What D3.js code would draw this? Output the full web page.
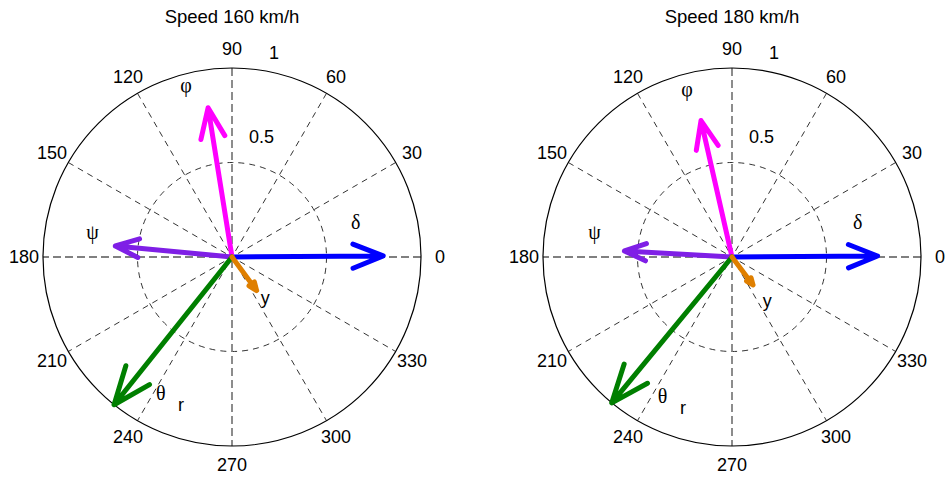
<!DOCTYPE html>
<html>
<head>
<meta charset="utf-8">
<script src="https://cdn.jsdelivr.net/npm/d3@7"></script>
<style>
  body { margin: 0; background: #fff; }
  text { font-family: "Liberation Sans", Arial, sans-serif; fill: #000; }
</style>
</head>
<body>
<div class="chart"></div>
<script>
// titles of the two panels
var titles = ["Speed 160 km/h", "Speed 180 km/h"];

// vectors: magnitude and angle (deg) per panel
var vectorNames = ["δ", "φ", "ψ", "θ", "y"];
var mag160 = [0.80, 0.80, 0.62, 1.00, 0.22];
var ang160 = [0.4, 99.1, 174.6, 231.4, 306.3];
var mag180 = [0.77, 0.74, 0.57, 1.00, 0.185];
var ang180 = [0.4, 102.8, 176.8, 230.5, 306.9];

// text labels next to the vectors (polar data coords)
var labelText = ["δ", "φ", "ψ", "θ", "r", "y"];
var labelR160 = [0.68, 0.94, 0.75, 0.81, 0.83, 0.28];
var labelA160 = [15.8, 105, 169.8, 242.3, 251, 308.8];
var labelR180 = [0.69, 0.92, 0.74, 0.82, 0.84, 0.30];
var labelA180 = [15.5, 105, 169.7, 243.4, 252, 308.5];

// ticks
var angleTicks = [0, 30, 60, 90, 120, 150, 180, 210, 240, 270, 300, 330];
var radiusTicks = [0.5, 1];

var colors = ["#0000ff", "#ff00ff", "#7f1fe6", "#007f00", "#df7f00"];

var width = 945;
var height = 478;
var R = 189;
var centers = [232, 732];
var cy = 257;

var svg = d3
  .select(".chart")
  .append("svg")
  .attr("width", width)
  .attr("height", height);

var panels = [
  { title: titles[0], mag: mag160, ang: ang160, lr: labelR160, la: labelA160 },
  { title: titles[1], mag: mag180, ang: ang180, lr: labelR180, la: labelA180 },
];

panels.forEach(function (p, i) {
  var cx = centers[i];
  var x = d3.scaleLinear().domain([-1, 1]).range([cx - R, cx + R]);
  var y = d3.scaleLinear().domain([-1, 1]).range([cy + R, cy - R]);
  var rs = d3.scaleLinear().domain([0, 1]).range([0, R]);
  var pt = function (r, deg) {
    var a = (deg * Math.PI) / 180;
    return [x(r * Math.cos(a)), y(r * Math.sin(a))];
  };

  var g = svg.append("g");

  // inner dashed ring
  g.selectAll(".ring")
    .data(radiusTicks.filter((d) => d < 1))
    .enter()
    .append("circle")
    .attr("cx", x(0))
    .attr("cy", y(0))
    .attr("r", (d) => rs(d))
    .attr("fill", "none")
    .attr("stroke", "#000")
    .attr("stroke-width", 0.8)
    .attr("stroke-dasharray", "6,5");

  // spokes
  g.selectAll(".spoke")
    .data(angleTicks.filter((d) => d < 180))
    .enter()
    .append("line")
    .attr("x1", (d) => pt(1, d)[0])
    .attr("y1", (d) => pt(1, d)[1])
    .attr("x2", (d) => pt(1, d + 180)[0])
    .attr("y2", (d) => pt(1, d + 180)[1])
    .attr("stroke", (d) => (d % 90 === 0 ? "#808080" : "#000"))
    .attr("stroke-width", (d) => (d % 90 === 0 ? 1.8 : 0.8))
    .attr("stroke-dasharray", (d) => (d % 90 === 0 ? "8,4" : "6,5"));

  // outer ring
  g.append("circle")
    .attr("cx", x(0))
    .attr("cy", y(0))
    .attr("r", rs(1))
    .attr("fill", "none")
    .attr("stroke", "#000")
    .attr("stroke-width", 1.2);

  // angle labels
  g.selectAll(".atick")
    .data(angleTicks)
    .enter()
    .append("text")
    .attr("x", (d) => pt(1.1, d)[0])
    .attr("y", (d) => pt(1.1, d)[1])
    .attr("text-anchor", "middle")
    .attr("dominant-baseline", "central")
    .style("font-size", "18px")
    .text((d) => d);

  // radius labels
  var ra = (76.6 * Math.PI) / 180;
  g.selectAll(".rtick")
    .data(radiusTicks)
    .enter()
    .append("text")
    .attr("x", (d) => x(0) + rs(d) * 0.913 * Math.cos(ra) - 2.9)
    .attr("y", (d) => y(0) - rs(d) * 0.913 * Math.sin(ra) - 30)
    .style("font-size", "18px")
    .text((d) => d);

  // vectors with arrow heads (compass style)
  var vecs = p.mag.map((m, k) => ({ m: m, a: p.ang[k], c: colors[k] }));
  g.selectAll(".vec")
    .data(vecs)
    .enter()
    .append("path")
    .attr("d", function (d) {
      var a = (d.a * Math.PI) / 180;
      var ux = Math.cos(a), uy = Math.sin(a);
      var vx = -uy, vy = ux;
      var tip = [x(d.m * ux), y(d.m * uy)];
      var h1 = [x(d.m * (0.8 * ux + 0.08 * vx)), y(d.m * (0.8 * uy + 0.08 * vy))];
      var h2 = [x(d.m * (0.8 * ux - 0.08 * vx)), y(d.m * (0.8 * uy - 0.08 * vy))];
      return (
        "M" + x(0) + "," + y(0) + "L" + tip +
        "M" + h1 + "L" + tip + "L" + h2
      );
    })
    .attr("fill", "none")
    .attr("stroke", (d) => d.c)
    .attr("stroke-width", 5)
    .attr("stroke-linecap", "round")
    .attr("stroke-linejoin", "round");

  // vector labels
  g.selectAll(".vlabel")
    .data(labelText)
    .enter()
    .append("text")
    .attr("x", (d, k) => pt(p.lr[k], p.la[k])[0])
    .attr("y", (d, k) => pt(p.lr[k], p.la[k])[1])
    .attr("text-anchor", "middle")
    .attr("dominant-baseline", "central")
    .style("font-family", (d) =>
      d === "r" || d === "y" ? "Liberation Sans, Arial, sans-serif" : "Liberation Serif, serif"
    )
    .style("font-size", (d) => (d === "r" || d === "y" ? "18px" : "20px"))
    .text((d) => d);

  // title
  g.append("text")
    .attr("x", x(0))
    .attr("y", 23)
    .attr("text-anchor", "middle")
    .style("font-size", "18.5px")
    .text(p.title);
});
</script>
</body>
</html>
